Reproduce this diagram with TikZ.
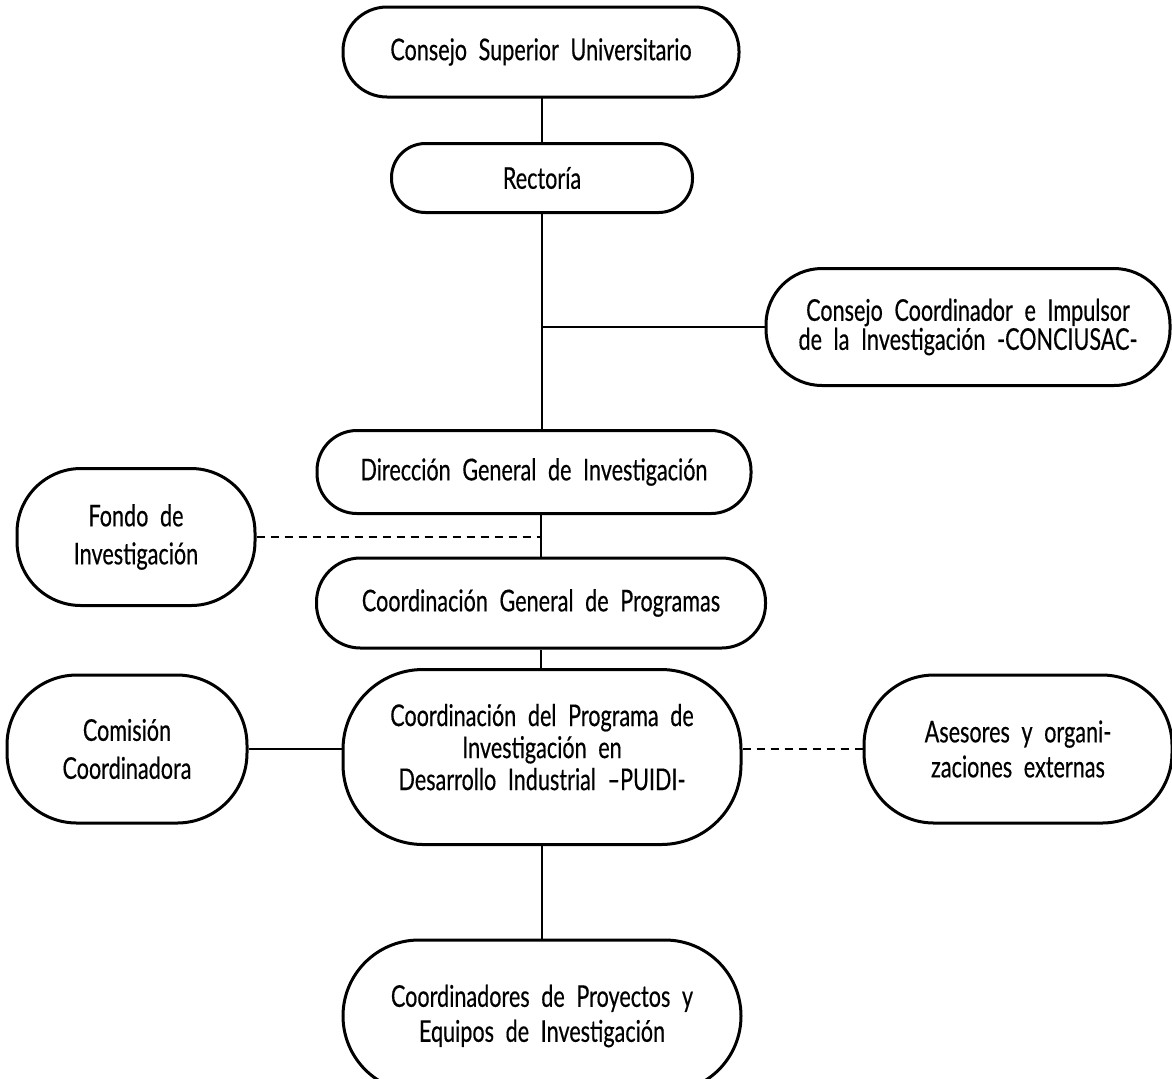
\documentclass[tikz,border=0pt]{standalone}
\usepackage{fontspec}
\setmainfont{Lato}[FakeStretch=0.72,WordSpace=2.1,FakeBold=0.4]
\usepackage{tikz}

\begin{document}
\begin{tikzpicture}[x=0.5pt,y=-0.5pt,
  every node/.style={inner sep=0pt,align=center,font=\fontsize{15}{17.5}\selectfont},
  lines/.style={font=\fontsize{15}{#1}\selectfont},
  unit/.style={draw,line width=1.5pt,rounded corners=#1},
  unit/.default=22pt,
  link/.style={line width=1pt},
  aux/.style={line width=1pt,dash pattern=on 4pt off 3pt}]
\useasboundingbox (0,0) rectangle (1172,1078);
\node [unit,minimum width=198pt,minimum height=45pt] (csu) at (541,52) {Consejo Superior Universitario};
\node [unit=17pt,minimum width=150.5pt,minimum height=34.5pt] (rect) at (542,178) {Rectoría};
\node [unit=28pt,lines=14.5pt,minimum width=202pt,minimum height=58.5pt] (conc) at (968,327) {Consejo Coordinador e Impulsor\\de la Investigación -CONCIUSAC-};
\node [unit=20pt,minimum width=217pt,minimum height=41.5pt] (dgi) at (534,472) {Dirección General de Investigación};
\node [unit=32pt,lines=19pt,minimum width=119pt,minimum height=68.5pt] (fondo) at (136,537) {Fondo de\\Investigación};
\node [unit,minimum width=224.5pt,minimum height=45pt] (cgp) at (541,603) {Coordinación General de Programas};
\node [unit=40pt,lines=16pt,minimum width=199pt,minimum height=87.5pt] (puidi) at (542,757) {Coordinación del Programa de\\Investigación en\\Desarrollo Industrial --PUIDI-\\[-6pt]~};
\node [unit=35pt,lines=19pt,minimum width=120pt,minimum height=74pt] (comision) at (127,749) {Comisión\\Coordinadora};
\node [unit=35pt,minimum width=154pt,minimum height=74pt] (asesores) at (1018,749) {Asesores y organi-\\zaciones externas};
\node [unit=38pt,minimum width=199pt,minimum height=76pt] (coord) at (542,1016) {Coordinadores de Proyectos y\\Equipos de Investigación};
\draw [link] (csu.south) -- (rect.south |- csu.south) -- (rect.north);
\draw [link] (rect.south) -- (rect.south |- dgi.north);
\draw [link] (rect.south |- conc.west) -- (conc.west);
\draw [link] (cgp.north |- dgi.south) -- (cgp.north);
\draw [aux] (fondo.east) -- (fondo.east -| cgp.north);
\draw [link] (cgp.south) -- (cgp.south |- puidi.north);
\draw [link] (comision.east) -- (comision.east -| puidi.west);
\draw [aux] (puidi.east |- asesores.west) -- (asesores.west);
\draw [link] (puidi.south) -- (coord.north);
\end{tikzpicture}
\end{document}
